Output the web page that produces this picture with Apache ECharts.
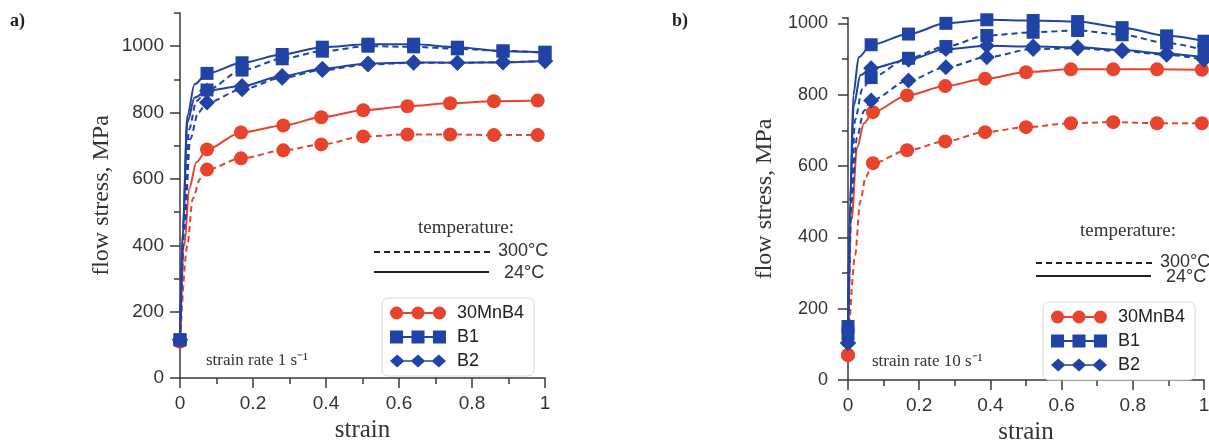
<!DOCTYPE html>
<html>
<head>
<meta charset="utf-8">
<script src="https://cdn.jsdelivr.net/npm/echarts@6/dist/echarts.min.js"></script>
<style>
  html, body { margin: 0; padding: 0; background: #fff; }
  #chart { width: 1209px; height: 443px; }
</style>
</head>
<body>
<div id="chart"></div>
<script>
// panel a) strain rate 1 s-1
var strainA_red  = [0, 0.074, 0.167, 0.283, 0.387, 0.502, 0.623, 0.74, 0.86, 0.98];
var strainA_blue = [0, 0.074, 0.17, 0.28, 0.39, 0.515, 0.64, 0.76, 0.885, 1.0];
var a_30MnB4_24  = [110, 689, 740, 761, 786, 807, 819, 828, 834, 836];
var a_30MnB4_300 = [110, 628, 662, 686, 704, 728, 734, 734, 732, 732];
var a_B1_24      = [115, 918, 950, 975, 997, 1006, 1006, 997, 985, 982];
var a_B1_300     = [115, 868, 928, 962, 985, 1000, 998, 992, 986, 980];
var a_B2_24      = [115, 866, 880, 910, 932, 948, 951, 950, 951, 955];
var a_B2_300     = [115, 830, 870, 905, 928, 945, 950, 950, 952, 955];
// steep initial rise (no marks there)
var a_rise_30MnB4_24  = [[0.012, 400], [0.025, 570], [0.045, 650]];
var a_rise_30MnB4_300 = [[0.02, 400], [0.035, 540], [0.055, 600]];
var a_rise_B1_24      = [[0.008, 450], [0.02, 790], [0.04, 885]];
var a_rise_B1_300     = [[0.01, 450], [0.025, 750], [0.045, 835]];
var a_rise_B2_24      = [[0.008, 450], [0.02, 770], [0.04, 845]];
var a_rise_B2_300     = [[0.012, 450], [0.028, 720], [0.05, 800]];

// panel b) strain rate 10 s-1
var strainB_red  = [0, 0.07, 0.166, 0.273, 0.385, 0.5, 0.626, 0.745, 0.868, 0.994];
var strainB_blue = [0, 0.065, 0.17, 0.275, 0.39, 0.52, 0.645, 0.77, 0.895, 1.0];
var b_30MnB4_24  = [70, 751, 798, 824, 845, 863, 871, 871, 871, 870];
var b_30MnB4_300 = [70, 608, 644, 669, 695, 709, 720, 723, 720, 720];
var b_B1_24      = [150, 940, 970, 1000, 1010, 1008, 1005, 988, 965, 950];
var b_B1_300     = [130, 848, 902, 935, 966, 975, 980, 968, 945, 925];
var b_B2_24      = [104, 874, 898, 928, 937, 935, 933, 925, 915, 905];
var b_B2_300     = [104, 784, 840, 877, 905, 928, 930, 922, 912, 898];
var b_rise_30MnB4_24  = [[0.01, 450], [0.025, 650], [0.045, 720]];
var b_rise_30MnB4_300 = [[0.02, 350], [0.034, 500], [0.05, 570]];
var b_rise_B1_24      = [[0.006, 500], [0.015, 800], [0.03, 905]];
var b_rise_B1_300     = [[0.008, 500], [0.02, 730], [0.04, 815]];
var b_rise_B2_24      = [[0.006, 500], [0.016, 770], [0.035, 855]];
var b_rise_B2_300     = [[0.01, 500], [0.025, 680], [0.045, 755]];

var yTicks = [0, 200, 400, 600, 800, 1000];

var RED = '#e8432d';
var BLUE = '#2043a5';
var AXIS = '#3a3a3a';

var chart = echarts.init(document.getElementById('chart'));

function curve(name, strains, values, rise, color, symbol, size, dashed, panel) {
  var data = [[strains[0], values[0]]];
  rise.forEach(function (p) { data.push({ value: p, symbol: 'none' }); });
  for (var i = 1; i < strains.length; i++) data.push([strains[i], values[i]]);
  return {
    name: name,
    type: 'line',
    xAxisIndex: panel,
    yAxisIndex: panel * 2,
    data: data,
    smooth: 0.3,
    smoothMonotone: 'x',
    symbol: symbol,
    symbolSize: size,
    clip: false,
    lineStyle: { color: color, width: 2, type: dashed ? [6, 4] : 'solid' },
    itemStyle: { color: color },
    z: color === RED ? 2 : 3
  };
}

function xAxis(grid) {
  return {
    type: 'value', gridIndex: grid, min: 0, max: 1, interval: 0.2,
    name: 'strain', nameLocation: 'middle', nameGap: 40,
    nameTextStyle: { fontFamily: 'Liberation Serif', fontSize: 25, color: '#333' },
    axisLine: { show: true, lineStyle: { color: AXIS, width: 1.5 } },
    axisTick: { show: true, length: 10, lineStyle: { color: AXIS, width: 1.5 } },
    minorTick: { show: true, splitNumber: 2, length: 6, lineStyle: { color: AXIS, width: 1.5 } },
    axisLabel: { margin: 16, fontFamily: 'Liberation Sans', fontSize: 19, color: '#333' },
    splitLine: { show: false }
  };
}

function yMajor(grid, max, gap, fs, margin) {
  return {
    type: 'value', gridIndex: grid, position: 'left', min: 0, max: max, interval: 200,
    name: 'flow stress, MPa', nameLocation: 'middle', nameGap: gap,
    nameTextStyle: { fontFamily: 'Liberation Serif', fontSize: 24, color: '#333' },
    axisLine: { show: true, lineStyle: { color: AXIS, width: 1.5 } },
    axisTick: { show: true, length: 10, customValues: yTicks, lineStyle: { color: AXIS, width: 1.5 } },
    axisLabel: {
      margin: margin, fontFamily: 'Liberation Sans', fontSize: fs, color: '#333',
      customValues: yTicks,
      formatter: function (v) { return v % 200 === 0 ? String(v) : ''; }
    },
    splitLine: { show: false }
  };
}

function yMinor(grid, max) {
  return {
    type: 'value', gridIndex: grid, position: 'left', offset: 0, min: 0, max: max, interval: 100,
    axisLine: { show: false },
    axisTick: { show: true, length: 6, lineStyle: { color: AXIS, width: 1.5 } },
    axisLabel: { show: false },
    splitLine: { show: false }
  };
}

function iconPath(shape) {
  var links = ' M14,6h9v2h-9Z M37,6h9v2h-9Z';
  var parts = [0, 23, 46].map(function (x) {
    if (shape === 'circle') return 'M' + x + ',7a7,7 0 1,0 14,0a7,7 0 1,0 -14,0Z';
    if (shape === 'rect') return 'M' + x + ',0.5h14v13h-14Z';
    return 'M' + (x + 7) + ',-1l8,8l-8,8l-8,-8Z';
  });
  return 'path://' + parts.join(' ') + links;
}

function legend(left, top) {
  return {
    orient: 'vertical', left: left, top: top,
    padding: [6, 10, 6, 8], itemGap: 6, itemWidth: 56, itemHeight: 13,
    symbolKeepAspect: false,
    backgroundColor: '#fff', borderColor: '#d6d6d6', borderWidth: 1, borderRadius: 6,
    textStyle: { fontFamily: 'Liberation Sans', fontSize: 18, color: '#222', padding: [0, 0, 0, 6] },
    data: [
      { name: '30MnB4', icon: iconPath('circle') },
      { name: 'B1', icon: iconPath('rect') },
      { name: 'B2', icon: iconPath('diamond') }
    ]
  };
}

function tempKey(x0, yTitle, yDash, ySolid, xT) {
  var serif = 'Liberation Serif', sans = 'Liberation Sans';
  return [
    { type: 'text', left: xT, top: yTitle - 11, style: { text: 'temperature:', font: '19px ' + serif, fill: '#333' } },
    { type: 'line', shape: { x1: x0, y1: yDash, x2: x0 + 116, y2: yDash }, style: { stroke: '#222', lineWidth: 2, lineDash: [6, 4] } },
    { type: 'text', left: x0 + 124, top: yDash - 10, style: { text: '300°C', font: '18px ' + sans, fill: '#333' } },
    { type: 'line', shape: { x1: x0, y1: ySolid, x2: x0 + 115, y2: ySolid }, style: { stroke: '#222', lineWidth: 2 } },
    { type: 'text', left: x0 + 130, top: ySolid - 8, style: { text: '24°C', font: '18px ' + sans, fill: '#333' } }
  ];
}

var option = {
  animation: false,
  grid: [
    { left: 180, top: 13, width: 365, height: 365, outerBoundsMode: 'none' },
    { left: 848, top: 18, width: 356, height: 362, outerBoundsMode: 'none' }
  ],
  xAxis: [xAxis(0), xAxis(1)],
  yAxis: [yMajor(0, 1100, 66, 19, 16), yMinor(0, 1100), yMajor(1, 1015, 71, 18, 20), yMinor(1, 1015)],
  legend: [legend(382, 298), legend(1043, 302)],
  series: [
    curve('30MnB4', strainA_red, a_30MnB4_300, a_rise_30MnB4_300, RED, 'circle', 14, true, 0),
    curve('30MnB4', strainA_red, a_30MnB4_24, a_rise_30MnB4_24, RED, 'circle', 14, false, 0),
    curve('B2', strainA_blue, a_B2_300, a_rise_B2_300, BLUE, 'diamond', 16, true, 0),
    curve('B2', strainA_blue, a_B2_24, a_rise_B2_24, BLUE, 'diamond', 16, false, 0),
    curve('B1', strainA_blue, a_B1_300, a_rise_B1_300, BLUE, 'rect', 13, true, 0),
    curve('B1', strainA_blue, a_B1_24, a_rise_B1_24, BLUE, 'rect', 13, false, 0),
    curve('30MnB4', strainB_red, b_30MnB4_300, b_rise_30MnB4_300, RED, 'circle', 14, true, 1),
    curve('30MnB4', strainB_red, b_30MnB4_24, b_rise_30MnB4_24, RED, 'circle', 14, false, 1),
    curve('B2', strainB_blue, b_B2_300, b_rise_B2_300, BLUE, 'diamond', 16, true, 1),
    curve('B2', strainB_blue, b_B2_24, b_rise_B2_24, BLUE, 'diamond', 16, false, 1),
    curve('B1', strainB_blue, b_B1_300, b_rise_B1_300, BLUE, 'rect', 13, true, 1),
    curve('B1', strainB_blue, b_B1_24, b_rise_B1_24, BLUE, 'rect', 13, false, 1)
  ],
  graphic: [
    { type: 'text', left: 10, top: 12, style: { text: 'a)', font: 'bold 18px Liberation Serif', fill: '#222' } },
    { type: 'text', left: 672, top: 12, style: { text: 'b)', font: 'bold 18px Liberation Serif', fill: '#222' } },
    { type: 'text', left: 206, top: 352, style: { text: 'strain rate 1 s⁻¹', font: '17px Liberation Serif', fill: '#333' } },
    { type: 'text', left: 872, top: 353, style: { text: 'strain rate 10 s⁻¹', font: '17px Liberation Serif', fill: '#333' } }
  ].concat(tempKey(374, 230, 252, 272, 418), tempKey(1036, 233, 263, 276, 1080))
};

chart.setOption(option);
</script>
</body>
</html>
